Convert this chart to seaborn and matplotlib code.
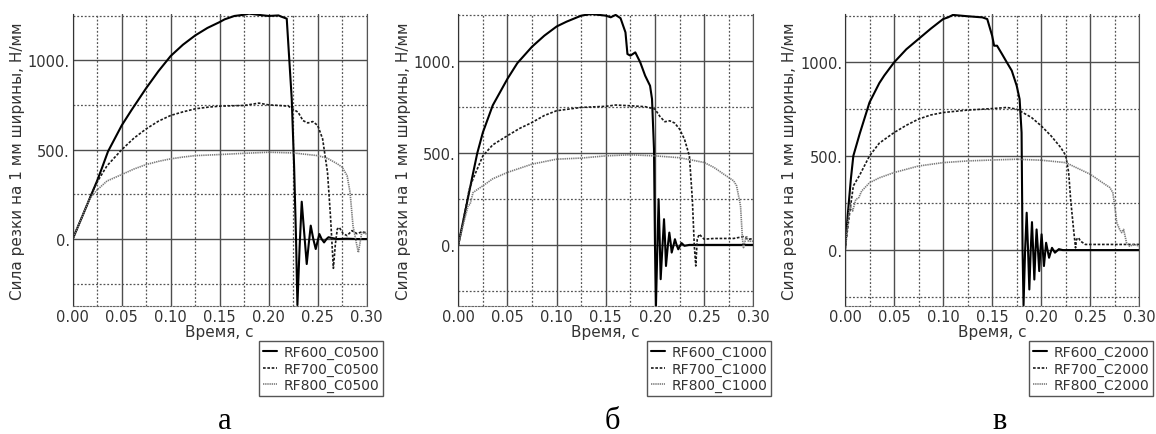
import numpy as np
import pandas as pd
import matplotlib
matplotlib.use("Agg")
import matplotlib.pyplot as plt
import seaborn as sns
from matplotlib.ticker import MultipleLocator, FormatStrFormatter

# панель а: RF600/RF700/RF800, C0500
a600_t = [0, 0.01, 0.02, 0.025, 0.03, 0.036, 0.05, 0.06, 0.075, 0.0875, 0.10, 0.1125, 0.125, 0.1375, 0.15,
          0.155, 0.165, 0.175, 0.18, 0.19,
          0.20, 0.21, 0.213, 0.2184, 0.2235, 0.2259, 0.2279, 0.2293, 0.2315, 0.2337, 0.236, 0.2388, 0.241,
          0.2429, 0.2455, 0.248, 0.25, 0.2517, 0.254, 0.2565, 0.259, 0.261, 0.265, 0.27, 0.28, 0.29, 0.30]
a600_f = [0, 130, 262, 327, 400, 490, 636, 722, 845, 940, 1025, 1088, 1140, 1182, 1215,
          1230, 1249, 1256, 1262, 1255,
          1249, 1252, 1245, 1234, 785, 411, 0, -370, -50, 209, 50, -140, -20,
          75, 0, -56, -10, 28, 0, -19, 0, 10, 5, 0, 2, 0, 0]
a700_t = [0, 0.01, 0.02, 0.025, 0.035, 0.05, 0.0625, 0.075, 0.0875, 0.10, 0.1125, 0.125, 0.1375, 0.15, 0.175,
          0.19, 0.20, 0.21, 0.22,
          0.23, 0.235, 0.24, 0.245, 0.25, 0.255, 0.26, 0.263, 0.266, 0.268, 0.27, 0.272, 0.276, 0.28,
          0.285, 0.29, 0.295, 0.30]
a700_f = [0, 130, 262, 320, 410, 500, 565, 617, 660, 692, 712, 729, 738, 744, 748,
          761, 751, 748, 744,
          710, 663, 650, 658, 636, 561, 374, 131, -164, -30, 56, 65, 30, 19,
          47, 30, 40, 35]
a800_t = [0, 0.01, 0.016, 0.02, 0.025, 0.035, 0.05, 0.0625, 0.075, 0.0875, 0.10, 0.1125, 0.125, 0.15, 0.175,
          0.20, 0.225, 0.25,
          0.26, 0.27, 0.275, 0.28, 0.283, 0.286, 0.29, 0.2915, 0.295, 0.30]
a800_f = [0, 130, 210, 245, 275, 325, 361, 392, 417, 435, 449, 459, 467, 473, 480,
          486, 482, 467,
          452, 421, 402, 355, 262, 75, -37, -75, 37, 28]

# панель б: C1000
b600_t = [0, 0.005, 0.01, 0.015, 0.0193, 0.025, 0.035, 0.05, 0.06, 0.075, 0.0875, 0.10, 0.11,
          0.125, 0.135, 0.15,
          0.155, 0.16, 0.165, 0.17, 0.172, 0.175, 0.18, 0.185, 0.19, 0.195, 0.197, 0.199, 0.2, 0.201,
          0.2025, 0.2037, 0.2048, 0.2058, 0.2075, 0.2092, 0.2102, 0.2112, 0.213, 0.2146, 0.216, 0.217,
          0.219, 0.2203, 0.222, 0.2237, 0.227, 0.23, 0.235, 0.25, 0.30]
b600_f = [0, 130, 260, 390, 500, 613, 760, 905, 990, 1080, 1140, 1190, 1216,
          1249, 1258, 1249,
          1240, 1253, 1235, 1158, 1040, 1031, 1049, 995, 922, 867, 795, 522, 0, -333,
          0, 249, 30, -187, -20, 140, 30, -115, -10, 67, 10, -42,
          0, 31, 0, -24, 10, -5, 0, 0, 0]
b700_t = [0, 0.005, 0.011, 0.015, 0.025, 0.035, 0.05, 0.0625, 0.075, 0.0875, 0.10, 0.125, 0.15, 0.16, 0.175,
          0.19, 0.2,
          0.205, 0.21, 0.215, 0.22, 0.225, 0.23, 0.235, 0.238, 0.24, 0.2415, 0.243, 0.245, 0.25, 0.26,
          0.28, 0.29, 0.295, 0.30]
b700_f = [0, 130, 300, 360, 485, 545, 595, 635, 667, 705, 731, 749, 755, 762, 758,
          753, 740,
          700, 671, 676, 664, 631, 576, 485, 249, -5, -115, 31, 58, 31, 35,
          35, 45, 30, 35]
b800_t = [0, 0.005, 0.01, 0.012, 0.015, 0.02, 0.025, 0.035, 0.05, 0.075, 0.10, 0.125, 0.15, 0.175, 0.2,
          0.225, 0.25, 0.26, 0.27, 0.28, 0.283, 0.287, 0.289, 0.29, 0.293, 0.295, 0.30]
b800_f = [0, 110, 213, 222, 285, 304, 322, 360, 395, 440, 467, 473, 485, 491, 485,
          475, 449, 422, 385, 349, 322, 213, 31, -15, 49, 20, 20]

# панель в: C2000
c600_t = [0, 0.003, 0.006, 0.0085, 0.015, 0.025, 0.035, 0.04, 0.05, 0.0625, 0.075, 0.0875, 0.10, 0.105, 0.11,
          0.125, 0.14, 0.145,
          0.15, 0.152, 0.155, 0.16, 0.165, 0.17, 0.175, 0.178, 0.18, 0.181, 0.182, 0.1836, 0.1852, 0.1866,
          0.1879, 0.1893, 0.1906, 0.1918, 0.193, 0.1942, 0.1953, 0.1967, 0.198, 0.1992, 0.2004, 0.2016,
          0.2028, 0.205, 0.208, 0.211, 0.214, 0.218, 0.222, 0.23, 0.30]
c600_f = [0, 200, 380, 502, 620, 787, 890, 930, 1000, 1070, 1125, 1180, 1231, 1240, 1253,
          1246, 1240, 1231,
          1142, 1089, 1089, 1045, 1000, 956, 876, 804, 626, 0, -295, 0, 199, 0,
          -210, 0, 149, 0, -157, 0, 110, 0, -112, 0, 84, 0,
          -85, 39, -41, 12, -14, 5, 0, 0, 0]
c700_t = [0, 0.004, 0.0085, 0.015, 0.025, 0.035, 0.05, 0.0625, 0.075, 0.0875, 0.10, 0.125, 0.15, 0.165, 0.175,
          0.19, 0.2,
          0.21, 0.22, 0.225, 0.228, 0.23, 0.233, 0.235, 0.236, 0.238, 0.24, 0.245, 0.26, 0.28, 0.30]
c700_f = [0, 170, 342, 400, 502, 570, 626, 665, 698, 720, 733, 746, 754, 760, 751,
          707, 662,
          609, 546, 504, 413, 270, 110, 12, 57, 66, 48, 30, 30, 30, 30]
c800_t = [0, 0.005, 0.0078, 0.011, 0.014, 0.017, 0.022, 0.025, 0.035, 0.05, 0.075, 0.10, 0.125, 0.15, 0.175,
          0.2, 0.225, 0.25, 0.26, 0.27, 0.273, 0.275, 0.277, 0.28, 0.282, 0.284, 0.287, 0.29, 0.295, 0.30]
c800_f = [0, 235, 208, 270, 279, 315, 342, 359, 385, 413, 448, 466, 475, 480, 484,
          479, 466, 404, 368, 333, 306, 235, 146, 110, 93, 110, 39, 21, 30, 21]

suffixes = ["C0500", "C1000", "C2000"]
panel_letters = ["а", "б", "в"]
ylims = [(-375, 1260), (-333, 1258), (-298, 1258)]
series = [
    [(a600_t, a600_f), (a700_t, a700_f), (a800_t, a800_f)],
    [(b600_t, b600_f), (b700_t, b700_f), (b800_t, b800_f)],
    [(c600_t, c600_f), (c700_t, c700_f), (c800_t, c800_f)],
]
materials = ["RF600", "RF700", "RF800"]

styles = [
    dict(color="black", lw=1.5, linestyle="-"),
    dict(color="#1a1a1a", lw=1.2, linestyle=(0, (1.6, 1.0))),
    dict(color="#7a7a7a", lw=1.2, linestyle=(0, (0.8, 0.5))),
]

sns.set_style("white")
plt.rcParams["font.family"] = ["DejaVu Sans"]
txt = "#333333"

fig = plt.figure(figsize=(11.56, 4.35), dpi=100)
lefts = [72.7, 458.3, 845.0]
widths = [294.0, 295.0, 294.3]
leg_right = [383, 771, 1153]
letter_x = [225, 612, 1000]

for i in range(3):
    ax = fig.add_axes([lefts[i] / 1156, 1 - 307 / 435, widths[i] / 1156, 292 / 435])
    for j in range(3):
        t, f = series[i][j]
        df = pd.DataFrame({"t": t, "f": f})
        sns.lineplot(data=df, x="t", y="f", ax=ax, label="%s_%s" % (materials[j], suffixes[i]),
                     estimator=None, sort=False, **styles[j])
    ax.set_xlim(0, 0.30)
    ax.set_ylim(*ylims[i])
    ax.xaxis.set_major_locator(MultipleLocator(0.05))
    ax.xaxis.set_minor_locator(MultipleLocator(0.025))
    ax.yaxis.set_major_locator(MultipleLocator(500))
    ax.yaxis.set_minor_locator(MultipleLocator(250))
    ax.xaxis.set_major_formatter(FormatStrFormatter("%.2f"))
    ax.yaxis.set_major_formatter(FormatStrFormatter("%d."))
    ax.grid(which="major", color="#4d4d4d", lw=1.0, ls="-", zorder=0)
    ax.grid(which="minor", color="#555555", lw=0.9, ls=(0, (1.5, 1.5)), zorder=0)
    ax.set_axisbelow(True)
    ax.tick_params(which="both", length=0, labelsize=10.5, colors=txt, pad=2)
    ax.spines["top"].set_visible(False)
    ax.spines["left"].set_color("#333333")
    ax.spines["right"].set_color("#555555")
    ax.spines["bottom"].set_color("#666666")
    ax.spines["bottom"].set_linestyle((0, (1.5, 1.5)))
    ax.set_xlabel("Время, с", fontsize=11, color=txt, labelpad=0)
    ax.set_ylabel("Сила резки на 1 мм ширины, Н/мм", fontsize=11, color=txt, labelpad=2)
    ax.legend(loc="upper right", bbox_to_anchor=(leg_right[i] / 1156, 1 - 342 / 435),
              bbox_transform=fig.transFigure, fontsize=10, frameon=True, fancybox=False,
              edgecolor="#555555", framealpha=1, borderpad=0.25, labelspacing=0.2,
              handlelength=1.0, handletextpad=0.5, borderaxespad=0, labelcolor=txt)
    fig.text(letter_x[i] / 1156, 1 - 422 / 435, panel_letters[i], ha="center", va="center",
             fontsize=22, family="Liberation Serif", color="black")

fig.savefig("out.png", dpi=100)
